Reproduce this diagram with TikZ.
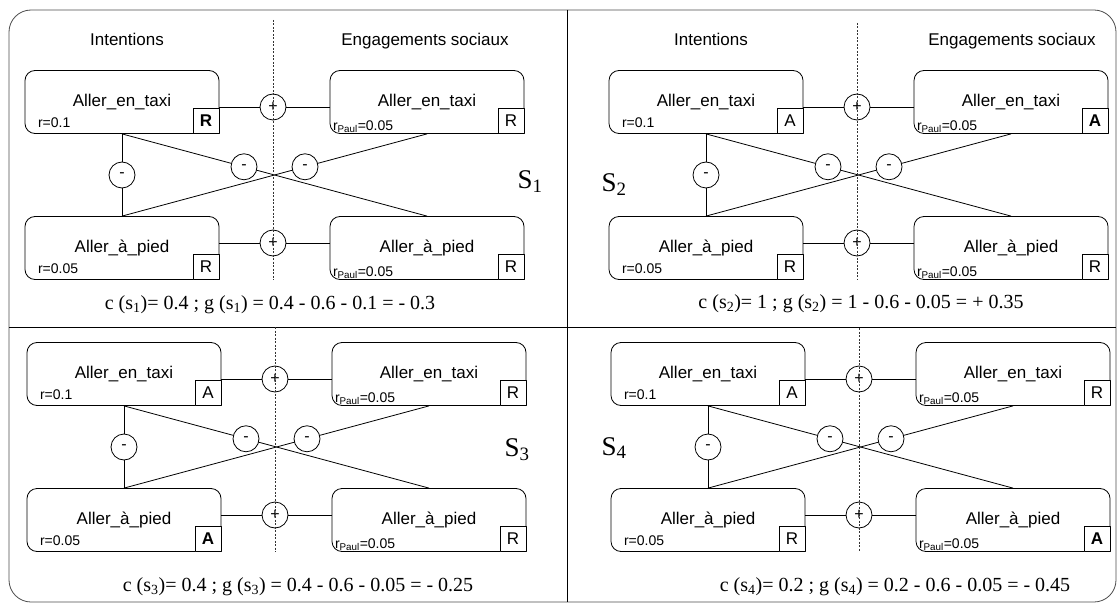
\documentclass[tikz,border=0pt]{standalone}
\usepackage{fontspec}
\newfontfamily\arial{Liberation Sans}
\newfontfamily\serifgain{Liberation Serif}
\usetikzlibrary{positioning}

% one situation: #1 name, #2 shift, #3 top of the separator,
% #4..#7 flags of taxi/intention, taxi/commitment, foot/intention, foot/commitment
\newcommand{\situation}[7]{%
  \begin{scope}[shift={#2}]
    % intentions on the left, social commitments on the right
    \node[choice] (#1-it) at (122,102) {Aller\_en\_taxi};
    \node[choice] (#1-et) at (427,102) {Aller\_en\_taxi};
    \node[choice] (#1-ip) at (122,248) {Aller\_à\_pied};
    \node[choice] (#1-ep) at (427,248) {Aller\_à\_pied};

    % accepted / rejected flags
    \node[flag, anchor=south east] (#1-itf) at (#1-it.south east) {#4};
    \node[flag, anchor=south east] (#1-etf) at (#1-et.south east) {#5};
    \node[flag, anchor=south east] (#1-ipf) at (#1-ip.south east) {#6};
    \node[flag, anchor=south east] (#1-epf) at (#1-ep.south east) {#7};

    % weights
    \node[weight, above right=6pt and 13pt of #1-it.south west] (#1-itw) {r=0.1};
    \node[weight, above right=1pt and 3pt of #1-et.south west] (#1-etw) {r\textsubscript{Paul}=0.05};
    \node[weight, above right=6pt and 13pt of #1-ip.south west] (#1-ipw) {r=0.05};
    \node[weight, above right=1pt and 3pt of #1-ep.south west] (#1-epw) {r\textsubscript{Paul}=0.05};

    % positive links
    \node[sign] (#1-p1) at (273,107) {+};
    \node[sign] (#1-p2) at (273,243) {+};
    \draw (#1-it.east |- #1-p1) -- (#1-p1) -- (#1-et.west |- #1-p1);
    \draw (#1-ip.east |- #1-p2) -- (#1-p2) -- (#1-ep.west |- #1-p2);

    % negative links
    \draw (#1-it.south) -- node[sign] (#1-m1) {-} (#1-ip.north);
    \draw (#1-it.south) -- node[sign, pos=.4] (#1-m2) {-} (#1-ep.north);
    \draw (#1-et.south) -- node[sign, pos=.4] (#1-m3) {-} (#1-ip.north);

    % separator
    \draw[sep] (273,#3) -- (273,280);
  \end{scope}}

\begin{document}
\begin{tikzpicture}[x=1pt, y=-1pt, line width=0.8pt, line join=round,
    choice/.style={draw, rounded corners=10pt, minimum width=194pt, minimum height=63pt,
      inner sep=0pt, font=\arial\fontsize{17}{20}\selectfont},
    flag/.style={draw, fill=white, minimum width=26pt, minimum height=25pt,
      inner sep=0pt, font=\arial\fontsize{17}{20}\selectfont},
    weight/.style={inner sep=0pt, font=\arial\fontsize{14}{16}\selectfont},
    sign/.style={circle, draw, fill=white, minimum size=26pt, inner sep=0pt,
      font=\arial\fontsize{16}{18}\selectfont},
    head/.style={anchor=base, inner sep=0pt, font=\arial\fontsize{17}{20}\selectfont},
    gain/.style={font=\serifgain\fontsize{20}{24}\selectfont},
    sit/.style={font=\serifgain\fontsize{27}{32}\selectfont},
    sep/.style={black!80, line width=0.8pt, dash pattern=on 2pt off 1.5pt}]

    \useasboundingbox (0,0) rectangle (1118,604);

    % frame and quarters
    \draw[black!70, rounded corners=22pt] (9,10) rectangle (1116,602);
    \draw (567.5,10) -- (567.5,602);
    \draw (9,327) -- (1116,327);

    \situation{s1}{(0,0)}{20}{\textbf{R}}{R}{R}{R}
    \situation{s2}{(584,0)}{23}{A}{\textbf{A}}{R}{R}
    \situation{s3}{(2,272)}{55}{A}{R}{\textbf{A}}{R}
    \situation{s4}{(586,272)}{56}{A}{R}{R}{\textbf{A}}

    % column titles
    \node[head] (s1-hi) at (127,46) {Intentions};
    \node[head] (s1-he) at (425,46) {Engagements sociaux};
    \node[head] (s2-hi) at (711,46) {Intentions};
    \node[head] (s2-he) at (1012,46) {Engagements sociaux};

    % situation names
    \node[sit] (s1) at (530,182) {S\textsubscript{1}};
    \node[sit] (s2) at (614,185) {S\textsubscript{2}};
    \node[sit] (s3) at (517,450) {S\textsubscript{3}};
    \node[sit] (s4) at (614,448) {S\textsubscript{4}};

    % cost and gain
    \node[gain] (g1) at (270,305) {c (s\textsubscript{1})= 0.4 ; g (s\textsubscript{1}) = 0.4 - 0.6 - 0.1 = - 0.3};
    \node[gain] (g2) at (861,304) {c (s\textsubscript{2})= 1 ; g (s\textsubscript{2}) = 1 - 0.6 - 0.05 = + 0.35};
    \node[gain] (g3) at (298,587) {c (s\textsubscript{3})= 0.4 ; g (s\textsubscript{3}) = 0.4 - 0.6 - 0.05 = - 0.25};
    \node[gain] (g4) at (895,587) {c (s\textsubscript{4})= 0.2 ; g (s\textsubscript{4}) = 0.2 - 0.6 - 0.05 = - 0.45};

\end{tikzpicture}
\end{document}
